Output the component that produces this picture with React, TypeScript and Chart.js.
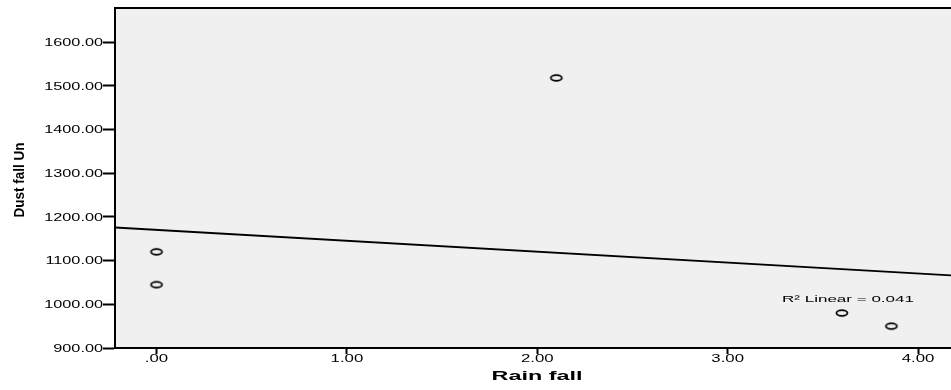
import React, { useEffect, useRef } from "react";
import { Chart, registerables } from "chart.js";

Chart.register(...registerables);

// ---- data ----
const rainFall = [0, 0, 2.1, 3.6, 3.86];
const dustFall = [1120, 1045, 1518, 980, 950];
const xTicks = [0, 1, 2, 3, 4];
const yTicks = [900, 1000, 1100, 1200, 1300, 1400, 1500, 1600];
const xTitle = "Rain fall";
const yTitle = "Dust fall Un";

const X_MIN = -0.218;
const X_MAX = 4.173;
const Y_MIN = 900;
const Y_MAX = 1678;

// linear regression from the data
function regression(xs: number[], ys: number[]) {
  const n = xs.length;
  const mx = xs.reduce((a, b) => a + b, 0) / n;
  const my = ys.reduce((a, b) => a + b, 0) / n;
  let sxx = 0, sxy = 0, syy = 0;
  for (let i = 0; i < n; i++) {
    sxx += (xs[i] - mx) ** 2;
    sxy += (xs[i] - mx) * (ys[i] - my);
    syy += (ys[i] - my) ** 2;
  }
  const slope = sxy / sxx;
  const intercept = my - slope * mx;
  const r2 = (sxy * sxy) / (sxx * syy);
  return { slope, intercept, r2 };
}
const fit = regression(rainFall, dustFall);
const r2Label = `R² Linear = ${fit.r2.toFixed(3)}`;

function fmt(v: number) {
  const s = v.toFixed(2);
  return s.startsWith("0.") ? s.slice(1) : s;
}

function makeEllipse() {
  const c = document.createElement("canvas");
  c.width = 16;
  c.height = 10;
  const g = c.getContext("2d")!;
  g.strokeStyle = "#000";
  g.lineWidth = 1.8;
  g.beginPath();
  g.ellipse(8, 5, 5.5, 2.8, 0, 0, Math.PI * 2);
  g.stroke();
  return c;
}

function drawStretched(
  ctx: CanvasRenderingContext2D,
  text: string,
  x: number,
  y: number,
  font: string,
  sx: number,
  align: CanvasTextAlign,
  sy = 1,
  rotate = 0
) {
  ctx.save();
  ctx.translate(x, y);
  if (rotate) ctx.rotate(rotate);
  ctx.scale(sx, sy);
  ctx.font = font;
  ctx.fillStyle = "#000";
  ctx.textAlign = align;
  ctx.textBaseline = "middle";
  ctx.fillText(text, 0, 0);
  ctx.restore();
}

function widthOf(ctx: CanvasRenderingContext2D, text: string, font: string) {
  ctx.save();
  ctx.font = font;
  const w = ctx.measureText(text).width;
  ctx.restore();
  return w;
}

const FONT = '"Liberation Sans", Arial, sans-serif';

const decorPlugin = {
  id: "decor",
  beforeDraw(chart: any) {
    const { ctx, chartArea } = chart;
    ctx.save();
    ctx.fillStyle = "#f0f0f0";
    ctx.fillRect(chartArea.left, chartArea.top, chartArea.right - chartArea.left, chartArea.bottom - chartArea.top);
    ctx.restore();
  },
  afterDraw(chart: any) {
    const { ctx, chartArea } = chart;
    const xs = chart.scales.x;
    const ys = chart.scales.y;
    // top frame line
    ctx.save();
    ctx.strokeStyle = "#000";
    ctx.lineWidth = 2;
    ctx.beginPath();
    ctx.moveTo(chartArea.left - 1, chartArea.top);
    ctx.lineTo(chartArea.right, chartArea.top);
    ctx.stroke();
    ctx.restore();

    const tickFont = `10.5px ${FONT}`;
    // y tick labels
    for (const t of ys.ticks) {
      const py = ys.getPixelForValue(t.value);
      drawStretched(ctx, fmt(t.value), chartArea.left - 12, py + 1, tickFont, 1.55, "right");
    }
    // x tick labels
    for (const t of xs.ticks) {
      const px = xs.getPixelForValue(t.value);
      drawStretched(ctx, fmt(t.value), px, chartArea.bottom + 11, tickFont, 1.6, "center");
    }
    // x title
    const xf = `bold 12.5px ${FONT}`;
    drawStretched(ctx, xTitle, 537, 377, xf, 91 / widthOf(ctx, xTitle, xf), "center", 1.0);

    // y title (rotated)
    const yf = `bold 14.5px ${FONT}`;
    drawStretched(ctx, yTitle, 20, 180, yf, 75 / widthOf(ctx, yTitle, yf), "center", 1.05, -Math.PI / 2);

    // R² label
    const rf = `8.5px ${FONT}`;
    const lx = xs.getPixelForValue(3.632);
    const ly = ys.getPixelForValue(1010);
    drawStretched(ctx, r2Label, lx, ly, rf, 132 / widthOf(ctx, r2Label, rf), "center", 1.05);
  },
};

export default function App() {
  const ref = useRef<HTMLCanvasElement | null>(null);

  useEffect(() => {
    document.body.style.margin = "0";
    const canvas = ref.current!;
    const ellipse = makeEllipse();
    const lineData = [X_MIN, X_MAX].map((x) => ({ x, y: fit.intercept + fit.slope * x }));

    const chart = new Chart(canvas, {
      type: "scatter",
      data: {
        datasets: [
          {
            type: "line",
            data: lineData,
            borderColor: "#000",
            borderWidth: 1.8,
            pointRadius: 0,
            fill: false,
            order: 2,
          } as any,
          {
            data: rainFall.map((x, i) => ({ x, y: dustFall[i] })),
            pointStyle: ellipse as any,
            pointRadius: 6,
            order: 1,
          },
        ],
      },
      options: {
        responsive: false,
        animation: false,
        layout: { autoPadding: false, padding: { top: 8, left: 0, right: 0, bottom: 0 } },
        plugins: { legend: { display: false }, tooltip: { enabled: false } },
        scales: {
          x: {
            type: "linear",
            min: X_MIN,
            max: X_MAX,
            afterBuildTicks: (s: any) => {
              s.ticks = xTicks.map((v) => ({ value: v }));
            },
            afterFit: (s: any) => {
              s.height = 42;
            },
            ticks: { display: false },
            grid: { drawOnChartArea: false, drawTicks: true, tickLength: 6, tickColor: "#000", tickWidth: 2 },
            border: { color: "#000", width: 2 },
          },
          y: {
            type: "linear",
            min: Y_MIN,
            max: Y_MAX,
            afterBuildTicks: (s: any) => {
              s.ticks = yTicks.map((v) => ({ value: v }));
            },
            afterFit: (s: any) => {
              s.width = 115;
            },
            ticks: { display: false },
            grid: { drawOnChartArea: false, drawTicks: true, tickLength: 12, tickColor: "#000", tickWidth: 2 },
            border: { color: "#000", width: 2 },
          },
        },
      },
      plugins: [decorPlugin],
    });
    return () => chart.destroy();
  }, []);

  return (
    <div style={{ position: "absolute", left: 0, top: 0, width: 951, height: 390, background: "#fff", overflow: "hidden" }}>
      <canvas ref={ref} width={951} height={390} style={{ display: "block" }} />
    </div>
  );
}
